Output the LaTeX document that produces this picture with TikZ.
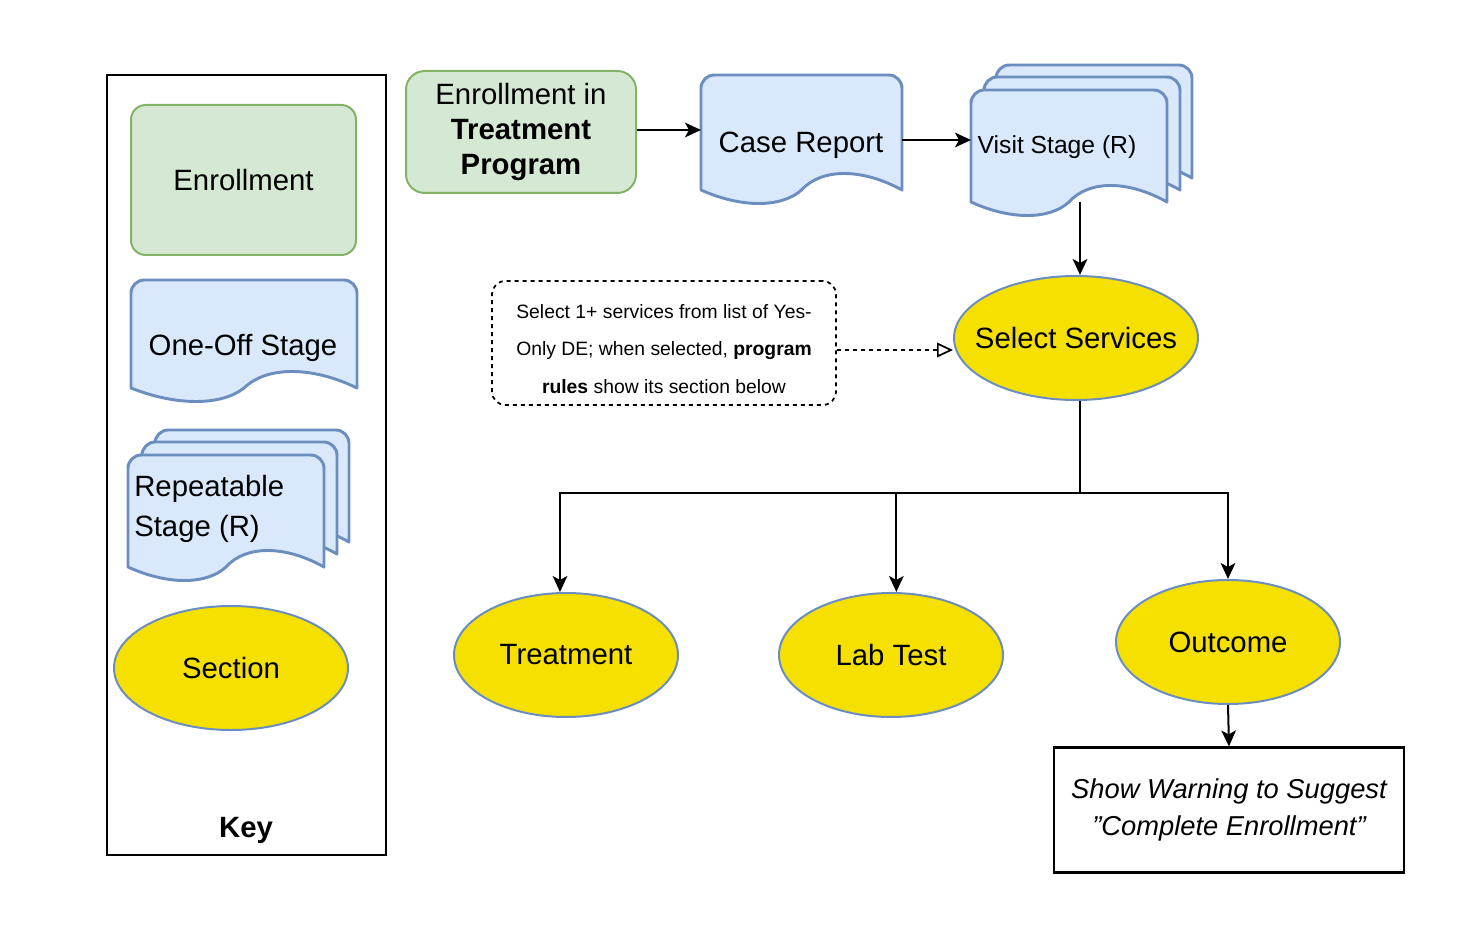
\documentclass[tikz,border=0pt]{standalone}
\usepackage{fontspec}
\setmainfont{Liberation Sans}[Ligatures=ResetAll]
\usetikzlibrary{arrows.meta,shapes.geometric}
\definecolor{gfill}{HTML}{D5E8D4}\definecolor{gdraw}{HTML}{82B366}
\definecolor{bfill}{HTML}{DAE8FC}\definecolor{bdraw}{HTML}{6C8EBF}
\definecolor{yfill}{HTML}{F5E000}
\newcommand\docshape[4]{%
 \pgfmathsetmacro\ww{#3-#1}%
 \draw[doc] (#1,#4) -- (#1,#2+10) [rounded corners=10] -- (#1,#2) -- (#3,#2) [sharp corners] -- (#3,#4)
  .. controls (#3-0.2*\ww,#4-22) and (#3-0.4*\ww,#4-22) .. (#1+0.5*\ww,#4)
  .. controls (#1+0.4*\ww,#4+18) and (#1+0.2*\ww,#4+18) .. (#1,#4) -- cycle;}
\tikzset{x=0.75pt,y=-0.75pt,
 doc/.style={fill=bfill,draw=bdraw,line width=2.2pt,line join=round},
 enr/.style={rectangle,rounded corners=11,fill=gfill,draw=gdraw,line width=1.5pt,align=center},
 sec/.style={ellipse,fill=yfill,draw=bdraw,line width=1.5pt,inner sep=0pt,minimum height=124*0.75pt},
 arr/.style={-{Stealth[length=12pt,width=11pt,inset=3pt]},line width=1.5pt},
 big/.style={font=\fontsize{22}{26}\selectfont},
}
\begin{document}
\begin{tikzpicture}
\useasboundingbox (0,0) rectangle (1467,930);
% key
\node[draw,line width=1.6pt,minimum width=279*0.75pt,minimum height=780*0.75pt] (key) at (246.5,465) {};
\node[font=\fontsize{22}{26}\selectfont\bfseries] (keyl) at (246,830) {Key};
\node[enr,big,minimum width=225*0.75pt,minimum height=150*0.75pt] (ke) at (243.5,180) {Enrollment};
\docshape{131}{280}{357}{388}
\node[big] (ko) at (243,348) {One-Off Stage};
\docshape{155}{430}{349}{542}
\docshape{142}{442}{337}{554}
\docshape{128}{455}{324}{567}
\node[big,align=left,anchor=west,inner sep=0pt] (kr) at (134,509) {Repeatable\\[4pt]Stage (R)};
\node[sec,minimum width=234*0.75pt] (ks) at (231,668) {};
\node[big] at (ks) {Section};
% main
\node[enr,big,minimum width=230*0.75pt,minimum height=122*0.75pt,rounded corners=14,inner sep=1pt] (en) at (521,132)
 {Enrollment in\\\textbf{Treatment}\\\textbf{Program}};
\docshape{701}{75}{902}{190}
\node[big] (cr) at (801,145) {Case Report};
\coordinate (crl) at (701,130); \coordinate (crr) at (902,140);
\docshape{996}{65}{1192}{178}
\docshape{984}{77}{1180}{190}
\docshape{971}{90}{1167}{202}
\node[font=\fontsize{18.5}{22}\selectfont] (vs) at (1057,147) {Visit Stage (R)};
\coordinate (vsl) at (971,140); \coordinate (vsb) at (1080,202);
\node[sec,minimum width=244*0.75pt] (ss) at (1076,338) {};
\node[big] at (ss) {Select Services};
\node[draw,dashed,rounded corners=10,line width=1.3pt,minimum width=344*0.75pt,minimum height=124*0.75pt] (note) at (664,343) {};
\node[font=\fontsize{14.5}{28}\selectfont,align=center] (notet) at (664,349)
 {Select 1+ services from list of Yes-\\Only DE; when selected, \textbf{program}\\\textbf{rules} show its section below};
\node[sec,minimum width=224*0.75pt] (tr) at (566,655) {};
\node[big] at (tr) {Treatment};
\node[sec,minimum width=224*0.75pt] (lt) at (891,655) {};
\node[big] at (lt) {Lab Test};
\node[sec,minimum width=224*0.75pt] (oc) at (1228,642) {};
\node[big] at (oc) {Outcome};
\node[draw,line width=1.6pt,minimum width=350*0.75pt,minimum height=125*0.75pt,align=center,
 font=\fontsize{20.5}{28}\selectfont\itshape] (wb) at (1229,810) {Show Warning to Suggest\\"Complete Enrollment"};
% connectors
\draw[arr] (en.east|-crl) -- (crl);
\draw[arr] (crr) -- (vsl);
\draw[arr] (vsb) -- (ss.north-|vsb);
\draw[-{Triangle[open,length=12pt,width=11pt]},dashed,line width=1.3pt] (note.east|-0,350) -- (ss.west|-0,350);
\coordinate (jn) at (1080,493);
\draw[line width=1.5pt] (ss.south-|jn) -- (jn);
\draw[arr] (jn) -| ([xshift=-4.5pt]tr.north);
\draw[arr] (jn) -| ([xshift=4pt]lt.north);
\draw[arr] (jn) -| (oc.north);
\draw[arr] (oc.south) -- (wb.north);
\end{tikzpicture}
\end{document}
